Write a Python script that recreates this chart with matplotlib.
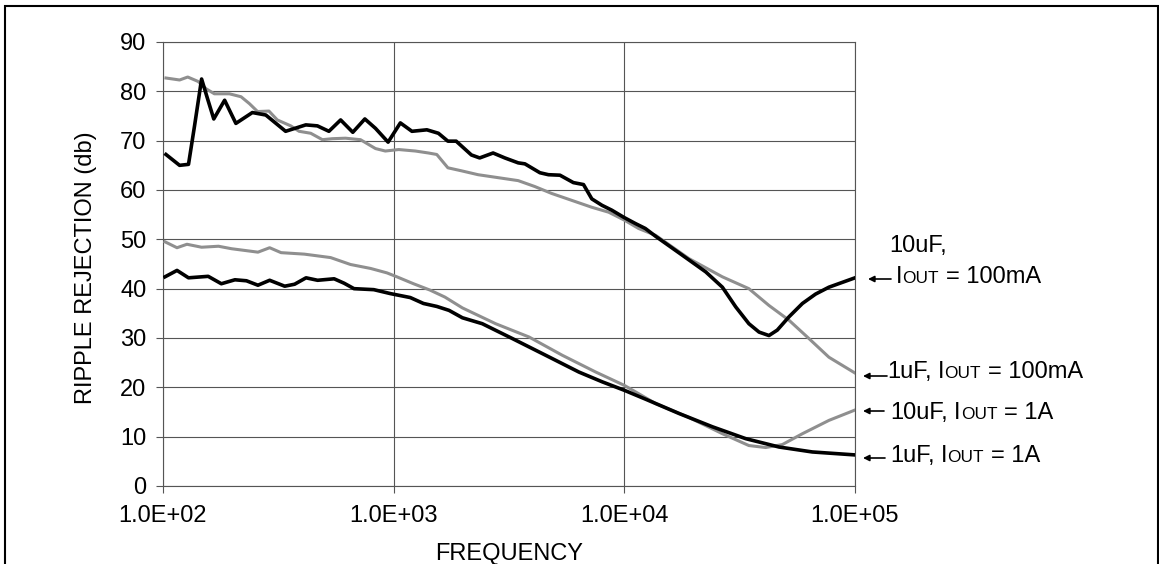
import matplotlib
matplotlib.use("Agg")
import matplotlib.pyplot as plt
from matplotlib.patches import FancyArrowPatch, Rectangle
import numpy as np

plt.rcParams["font.family"] = ["Liberation Sans", "DejaVu Sans"]

W, H = 1159, 564

# 10uF, Iout = 100mA  (black, top)
f_10u_100m = [103, 118, 129, 137, 147, 156, 166, 185, 207, 244, 279, 340, 416, 467,
              524, 589, 665, 750, 834, 946, 1069, 1200, 1393, 1563, 1718, 1866, 2173,
              2360, 2698, 3034, 3467, 3707, 4305, 4688, 5260, 6012, 6653, 7228, 7998,
              8831, 10000, 11170, 12330, 13680, 17820, 22540, 26610, 30410, 34670,
              38370, 42360, 46030, 51760, 59160, 67450, 77090, 100000]
db_10u_100m = [67.2, 65.0, 65.2, 73.0, 82.5, 78.5, 74.4, 78.2, 73.5, 75.7, 75.2, 71.9, 73.2, 73.0,
               71.9, 74.2, 71.7, 74.4, 72.5, 69.7, 73.6, 71.9, 72.2, 71.5, 69.9, 69.9, 67.1,
               66.5, 67.5, 66.5, 65.5, 65.3, 63.5, 63.1, 63.0, 61.5, 61.1, 58.2, 56.9,
               55.9, 54.4, 53.2, 52.2, 50.6, 46.8, 43.4, 40.3, 36.3, 32.9,
               31.2, 30.5, 31.6, 34.3, 37.0, 38.9, 40.3, 42.2]

# 1uF, Iout = 100mA  (grey, top)
f_1u_100m = [103, 118, 128, 142, 154, 167, 194, 218, 237, 257, 288, 313, 358, 389, 437,
             491, 542, 618, 718, 834, 920, 1052, 1242, 1416, 1538, 1718, 1963, 2323,
             2838, 3467, 4093, 4842, 5916, 7228, 8551, 10000, 11530, 13680, 19050,
             26610, 34670, 42360, 51760, 63100, 77090, 100000]
db_1u_100m = [82.7, 82.3, 82.9, 82.0, 80.5, 79.5, 79.5, 78.9, 77.5, 75.9, 76.0, 74.2, 73.0, 71.9, 71.5,
              70.2, 70.4, 70.5, 70.2, 68.4, 67.9, 68.2, 67.9, 67.5, 67.2, 64.5, 63.9, 63.1,
              62.5, 61.9, 60.7, 59.3, 57.9, 56.5, 55.5, 53.9, 52.2, 50.8, 46.1,
              42.4, 40.0, 36.6, 33.6, 29.9, 26.1, 22.9]

# 10uF, Iout = 1A  (grey, bottom)
f_10u_1a = [102, 115, 127, 147, 174, 198, 258, 290, 325, 410, 533, 650, 794, 935, 1033,
            1219, 1439, 1667, 1986, 2767, 3864, 5383, 7516, 10000, 13680, 19050, 26610,
            34670, 41020, 48420, 59160, 77090, 100000]
db_10u_1a = [49.5, 48.3, 49.0, 48.4, 48.6, 48.1, 47.4, 48.3, 47.3, 47.0, 46.3, 44.9, 44.1, 43.2, 42.4,
             41.0, 39.7, 38.3, 36.1, 32.9, 30.2, 26.5, 23.1, 20.4, 16.7, 13.9, 10.6,
             8.2, 7.8, 8.4, 10.6, 13.3, 15.4]

# 1uF, Iout = 1A  (black, bottom)
f_1u_1a = [102, 115, 129, 157, 179, 205, 230, 258, 290, 337, 372, 417, 468, 552, 610, 673,
           820, 968, 1180, 1346, 1538, 1738, 1986, 2421, 3266, 4560, 6353, 8035, 10000,
           12360, 17260, 24100, 33570, 46880, 65310, 100000]
db_1u_1a = [42.4, 43.7, 42.2, 42.5, 41.0, 41.8, 41.6, 40.7, 41.7, 40.5, 40.9, 42.2, 41.7, 42.0, 41.1, 40.0,
            39.8, 39.0, 38.2, 37.0, 36.4, 35.6, 34.1, 32.9, 29.9, 26.5, 23.1, 21.1, 19.4,
            17.6, 14.7, 12.0, 9.6, 7.9, 6.9, 6.3]

x_ticks = [1e2, 1e3, 1e4, 1e5]
x_tick_labels = ["1.0E+02", "1.0E+03", "1.0E+04", "1.0E+05"]
y_ticks = list(range(0, 91, 10))

BLACK = "#000000"
GREY = "#8f8f8f"
GRID = "#555555"
FS = 17


def px(x, y):
    """top-left pixel -> figure fraction"""
    return x / W, 1 - y / H


def rich_text(fig, x, y, pieces):
    """draw pieces of (text, size) left to right on one baseline; ' ' = space"""
    r = fig.canvas.get_renderer()
    for s, size in pieces:
        if s == " ":
            x += 0.278 * size * fig.dpi / 72
            continue
        fx, fy = px(x, y)
        t = fig.text(fx, fy, s, fontsize=size, ha="left", va="baseline")
        x += t.get_window_extent(renderer=r).width


def arrow(fig, x_tail, x_head, y):
    a = FancyArrowPatch(px(x_tail, y), px(x_head, y), transform=fig.transFigure,
                        arrowstyle="-|>", mutation_scale=9, lw=1.2, color="k",
                        shrinkA=0, shrinkB=0)
    fig.add_artist(a)


fig = plt.figure(figsize=(W / 100, H / 100), dpi=100)
ax = fig.add_axes([163 / W, 1 - 486 / H, 692 / W, 444 / H])

ax.plot(f_1u_100m, db_1u_100m, color=GREY, lw=2.2, zorder=3)
ax.plot(f_10u_1a, db_10u_1a, color=GREY, lw=2.2, zorder=3)
ax.plot(f_10u_100m, db_10u_100m, color=BLACK, lw=2.6, zorder=4)
ax.plot(f_1u_1a, db_1u_1a, color=BLACK, lw=2.6, zorder=4)

ax.set_xscale("log")
ax.set_xlim(1e2, 1e5)
ax.set_ylim(0, 90)
ax.set_xticks(x_ticks)
ax.set_xticklabels(x_tick_labels)
ax.xaxis.set_minor_locator(matplotlib.ticker.NullLocator())
ax.set_yticks(y_ticks)
ax.tick_params(axis="both", labelsize=FS, length=5, width=0.8, color=GRID)
ax.tick_params(axis="y", pad=7)
ax.tick_params(axis="x", pad=9)
ax.grid(True, color=GRID, lw=0.8)
for s in ax.spines.values():
    s.set_color(GRID)
    s.set_linewidth(0.8)

fig.text(*px(86, 268), "RIPPLE REJECTION (db)", rotation=90, fontsize=FS,
         ha="center", va="center")
fig.text(*px(509, 560), "FREQUENCY", fontsize=FS, ha="center", va="baseline")

# curve labels
I_SMALL = FS * 0.73
rich_text(fig, 889, 252, [("10uF,", FS)])
rich_text(fig, 896, 283, [("I", FS), ("OUT", I_SMALL), (" ", FS), ("= 100mA", FS)])
rich_text(fig, 887, 378, [("1uF,", FS), (" ", FS), ("I", FS), ("OUT", I_SMALL), (" ", FS), ("= 100mA", FS)])
rich_text(fig, 890, 419, [("10uF,", FS), (" ", FS), ("I", FS), ("OUT", I_SMALL), (" ", FS), ("= 1A", FS)])
rich_text(fig, 890, 462, [("1uF,", FS), (" ", FS), ("I", FS), ("OUT", I_SMALL), (" ", FS), ("= 1A", FS)])
arrow(fig, 891, 868, 279)
arrow(fig, 887, 863, 376)
arrow(fig, 884, 863, 411)
arrow(fig, 885, 863, 458)

# outer frame
fig.add_artist(Rectangle(px(4.5, 600), 1153 / W, (600 - 5.5) / H, transform=fig.transFigure,
                         fill=False, lw=1.5, color="k"))

fig.savefig("out.png", dpi=100)
